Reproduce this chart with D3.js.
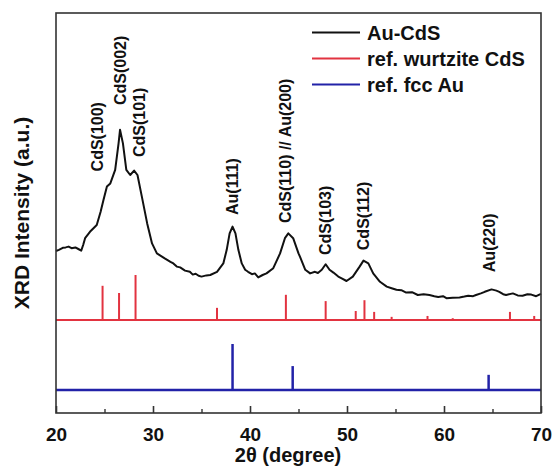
<!DOCTYPE html>
<html lang="en">
<head>
<title>XRD Au-CdS</title>
<meta charset="utf-8">
<script src="https://d3js.org/d3.v7.min.js"></script>
<style>
body { margin: 0; background-color: #fff; }
text { font-family: "Liberation Sans", Arial, sans-serif; font-weight: bold; fill: #111; }
</style>
</head>
<body>

<div id="my_dataviz"></div>

<script>

// measured pattern of the Au-CdS sample (2theta, intensity a.u.)
var curveTheta = [20.0, 20.3, 20.7, 21.0, 21.3, 21.6, 22.0, 22.3, 22.6, 22.8, 23.0, 23.5, 24.2, 24.6, 24.9,
  25.25, 25.6, 26.1, 26.45, 26.6, 26.9, 27.25, 27.65, 28.05, 28.4, 28.85, 29.4, 29.9, 30.4, 30.8, 31.25, 31.8,
  32.1, 32.45, 32.8, 33.3, 33.8, 34.1, 34.4, 34.7, 35.0, 35.5, 35.9, 36.6, 37.25, 37.6, 37.9, 38.2, 38.5, 38.8,
  39.15, 39.5, 39.8, 40.2, 40.5, 40.85, 41.3, 41.7, 42.4, 43.1, 43.6, 43.95, 44.45, 45.0, 45.15, 45.7, 46.2,
  46.7, 47.0, 47.4, 47.8, 48.2, 48.6, 49.1, 49.5, 49.95, 50.6, 51.3, 51.7, 52.2, 52.7, 53.4, 54.1, 54.6, 55.1,
  55.6, 56.1, 56.7, 57.3, 57.9, 58.5, 59.0, 59.4, 59.9, 60.25, 60.9, 61.6, 62.1, 62.5, 63.0, 63.3, 63.8, 64.2,
  64.9, 65.4, 65.7, 66.1, 66.4, 67.1, 67.6, 68.1, 68.6, 69.0, 69.5, 70.0];
var curveValue = [40.5, 40.8, 41.3, 41.4, 41.6, 41.2, 41.4, 41.0, 40.6, 42.0, 43.7, 45.3, 47.0, 50.3, 53.3,
  56.6, 57.4, 60.8, 67.4, 70.8, 67.4, 60.8, 59.5, 60.6, 59.5, 54.1, 47.4, 42.4, 39.9, 39.3, 38.6, 37.8,
  37.4, 36.6, 36.4, 35.6, 35.3, 34.6, 34.8, 34.3, 34.1, 34.4, 34.5, 35.3, 37.4, 40.8, 44.9, 46.6, 44.9, 40.8,
  37.4, 35.8, 35.3, 34.7, 34.9, 33.9, 34.5, 34.9, 36.2, 39.9, 43.7, 44.9, 43.7, 39.9, 39.1, 35.8, 34.9,
  35.3, 35.0, 35.8, 37.2, 35.8, 35.1, 34.1, 33.6, 33.0, 34.1, 36.6, 38.1, 37.4, 34.9, 32.8, 31.6, 31.2, 30.8,
  30.7, 30.1, 30.2, 29.5, 29.7, 29.5, 29.2, 29.0, 29.2, 28.7, 28.8, 28.9, 29.1, 29.3, 29.2, 29.5, 29.9, 30.3,
  30.9, 30.6, 30.3, 29.7, 29.5, 29.9, 29.4, 29.3, 29.7, 29.6, 29.2, 29.8];

// reference wurtzite CdS (relative intensity %)
var cdsTheta = [24.8, 26.5, 28.2, 36.6, 43.7, 47.8, 50.9, 51.8, 52.8, 54.6, 58.3, 60.9, 66.8, 69.3];
var cdsInt = [76, 60, 100, 27, 56, 42, 20, 44, 18, 7, 9, 4, 18, 9];
var cdsBase = 23.25;

// reference fcc Au (relative intensity %)
var auTheta = [38.2, 44.4, 64.6];
var auInt = [100, 52, 33];
var auBase = 5.75;

// peak labels
var peakNames = ["CdS(100)", "CdS(002)", "CdS(101)", "Au(111)", "CdS(110) // Au(200)", "CdS(103)", "CdS(112)", "Au(220)"];
var peakTheta = [24.2, 26.6, 28.6, 38.1, 43.6, 47.7, 51.6, 64.6];
var peakLabelAt = [60.4, 77, 64, 49.5, 47.5, 39.5, 40.7, 35.2];

var legendNames = ["Au-CdS", "ref. wurtzite CdS", "ref. fcc Au"];
var legendColors = ["#111111", "#e23340", "#2222a8"];

var xTicks = [20, 30, 40, 50, 60, 70];
var xMinor = [25, 35, 45, 55, 65];

var width = 553, height = 468;
var margin = {top: 13, right: 12, bottom: 55, left: 56};

var svg = d3.select("#my_dataviz")
  .append("svg")
    .attr("width", width)
    .attr("height", height);

var x = d3.scaleLinear()
  .domain([20, 70])
  .range([margin.left, width - margin.right]);

var y = d3.scaleLinear()
  .domain([0, 100])
  .range([height - margin.bottom, margin.top]);

// reference patterns: baseline plus sticks
function sticks(theta, inten, base, color, k, lw) {
  svg.append("line")
    .attr("x1", x(20)).attr("x2", x(70))
    .attr("y1", y(base)).attr("y2", y(base))
    .attr("stroke", color).attr("stroke-width", lw);
  svg.selectAll(null)
    .data(theta)
    .enter()
    .append("line")
      .attr("x1", function(d) { return x(d); })
      .attr("x2", function(d) { return x(d); })
      .attr("y1", y(base))
      .attr("y2", function(d, i) { return y(base + inten[i] * k); })
      .attr("stroke", color)
      .attr("stroke-width", lw);
}
sticks(cdsTheta, cdsInt, cdsBase, legendColors[1], 0.1125, 2);
sticks(auTheta, auInt, auBase, legendColors[2], 0.115, 2.5);

// measured curve
var pts = curveTheta.map(function(d, i) { return [d, curveValue[i]]; });
svg.append("path")
  .datum(pts)
  .attr("fill", "none")
  .attr("stroke", legendColors[0])
  .attr("stroke-width", 2)
  .attr("stroke-linejoin", "round")
  .attr("d", d3.line()
    .x(function(d) { return x(d[0]); })
    .y(function(d) { return y(d[1]); })
  );

// peak labels (rotated)
svg.selectAll(null)
  .data(peakNames)
  .enter()
  .append("text")
    .attr("transform", function(d, i) {
      return "translate(" + (x(peakTheta[i]) + 6) + "," + y(peakLabelAt[i]) + ") rotate(-90)";
    })
    .style("font-size", "16px")
    .text(function(d) { return d; });

// frame
svg.append("rect")
  .attr("x", x(20)).attr("y", y(100))
  .attr("width", x(70) - x(20)).attr("height", y(0) - y(100))
  .attr("fill", "none")
  .attr("stroke", "#333")
  .attr("stroke-width", 1.6);

// x axis with inward ticks
var xAxis = svg.append("g")
  .attr("transform", "translate(0," + y(0) + ")")
  .call(d3.axisBottom(x).tickValues(xTicks).tickSize(-7).tickPadding(15));
xAxis.select(".domain").remove();
xAxis.selectAll("line").attr("stroke", "#333").attr("stroke-width", 1.6);
xAxis.selectAll("text").style("font-size", "19px").attr("fill", "#111");

var xMinorAxis = svg.append("g")
  .attr("transform", "translate(0," + y(0) + ")")
  .call(d3.axisBottom(x).tickValues(xMinor).tickSize(-4).tickFormat(""));
xMinorAxis.select(".domain").remove();
xMinorAxis.selectAll("line").attr("stroke", "#333").attr("stroke-width", 1.4);

// axis titles
svg.append("text")
  .attr("x", 288).attr("y", 462)
  .attr("text-anchor", "middle")
  .style("font-size", "20px")
  .text("2\u03B8 (degree)");

svg.append("text")
  .attr("transform", "translate(29," + (y(50)) + ") rotate(-90)")
  .attr("text-anchor", "middle")
  .style("font-size", "21px")
  .text("XRD Intensity (a.u.)");

// legend
var leg = svg.selectAll(".leg")
  .data(legendNames)
  .enter()
  .append("g")
    .attr("class", "leg")
    .attr("transform", function(d, i) { return "translate(312," + (32.5 + i * 26) + ")"; });
leg.append("line")
  .attr("x1", 0).attr("x2", 48)
  .attr("stroke", function(d, i) { return legendColors[i]; })
  .attr("stroke-width", 2);
leg.append("text")
  .attr("x", 55).attr("y", 7)
  .style("font-size", "20px")
  .text(function(d) { return d; });

</script>
</body>
</html>
